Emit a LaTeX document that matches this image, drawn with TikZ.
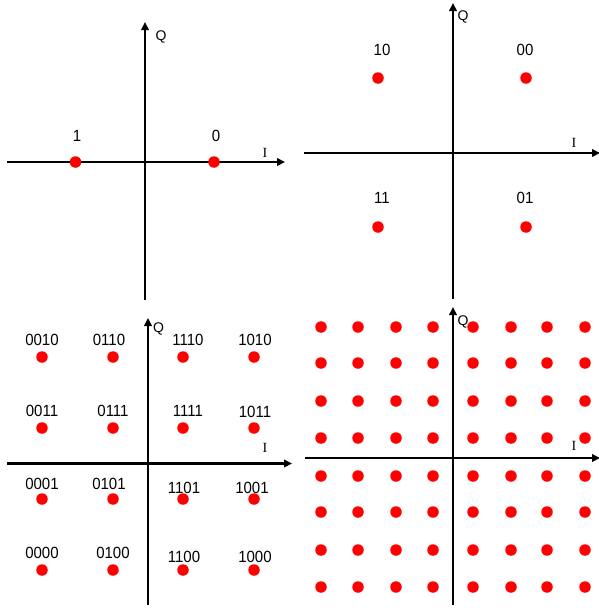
\documentclass[tikz,border=0pt]{standalone}
\usepackage{fontspec}
\usetikzlibrary{arrows.meta}
\newfontfamily\arialfont{Liberation Sans}
\newfontfamily\timesfont{Liberation Serif}
\tikzset{
  axis/.style={line width=2.4pt, -{Triangle[length=8pt,width=7.5pt]}},
  dot/.style={circle, fill=red, draw=none, inner sep=0pt, minimum size=11.5pt},
  lab/.style={inner sep=0pt, yscale=1.08, font=\arialfont\fontsize{15}{17}\selectfont},
  qlab/.style={inner sep=0pt, font=\arialfont\fontsize{14}{16}\selectfont},
  ilab/.style={inner sep=0pt, font=\timesfont\fontsize{14}{16}\selectfont},
}
\begin{document}
\begin{tikzpicture}[x=1pt,y=-1pt]
\useasboundingbox (0,0) rectangle (599,608);
% ---------- BPSK ----------
\coordinate (h1w) at (7,162); \coordinate (h1e) at (285,162);
\coordinate (v1s) at (145,300); \coordinate (v1n) at (145,22);
\draw[axis] (h1w) -- (h1e);
\draw[axis] (v1s) -- (v1n);
\node[qlab] (q1) at (161,37) {Q};
\node[ilab] (i1) at (265,153) {I};
\node[dot] (b1) at (75.5,162) {};
\node[dot] (b0) at (214,162) {};
\node[lab] (lb1) at (77,136) {1};
\node[lab] (lb0) at (216,136) {0};
% ---------- QPSK ----------
\coordinate (h2w) at (304,153); \coordinate (h2e) at (600,153);
\coordinate (v2s) at (453,299); \coordinate (v2n) at (453,3);
\draw[axis] (h2w) -- (h2e);
\draw[axis] (v2s) -- (v2n);
\node[qlab] (q2) at (463,17) {Q};
\node[ilab] (i2) at (574,143) {I};
\node[dot] (p10) at (378,78) {};
\node[dot] (p00) at (526,78) {};
\node[dot] (p11) at (378,227) {};
\node[dot] (p01) at (526,227) {};
\node[lab] (l10) at (382,50) {10};
\node[lab] (l00) at (525,50) {00};
\node[lab] (l11) at (382,198) {11};
\node[lab] (l01) at (525,198) {01};
% ---------- 16QAM ----------
\coordinate (h3w) at (7,463.5); \coordinate (h3e) at (292,463.5);
\coordinate (v3s) at (148,605); \coordinate (v3n) at (148,318);
\draw[axis] (h3w) -- (h3e);
\draw[axis] (v3s) -- (v3n);
\node[qlab] (q3) at (158.5,329) {Q};
\node[ilab] (i3) at (265,448) {I};
\foreach \x/\y/\t/\lx/\ly in {
  42/357/0010/42/340, 113/357/0110/109/340, 183/357/1110/188/340, 254/357/1010/255/340,
  42/428/0011/42/411, 113/428/0111/113/411, 183/428/1111/188/411, 254/428/1011/255/412,
  42/499/0001/42/484, 113/499/0101/109/484, 183/499/1101/184/488, 254/499/1001/252/488,
  42/570/0000/42/553, 113/570/0100/113/553, 183/570/1100/184/557, 254/570/1000/255/557}{
  \node[dot] (s\t) at (\x,\y) {};
  \node[lab] (ls\t) at (\lx,\ly) {\t};
}
% ---------- 64QAM ----------
\coordinate (h4w) at (305,458); \coordinate (h4e) at (600,458);
\coordinate (v4s) at (453,605); \coordinate (v4n) at (453,307);
\draw[axis] (h4w) -- (h4e);
\draw[axis] (v4s) -- (v4n);
\node[qlab] (q4) at (463,322) {Q};
\node[ilab] (i4) at (574,446) {I};
\foreach \x [count=\i] in {321,358,396,433,473,511,547,585}{
  \foreach \y [count=\j] in {327,363,401,438,476,512,550,587}{
    \node[dot] (m\i\j) at (\x,\y) {};
  }
}
\end{tikzpicture}
\end{document}
